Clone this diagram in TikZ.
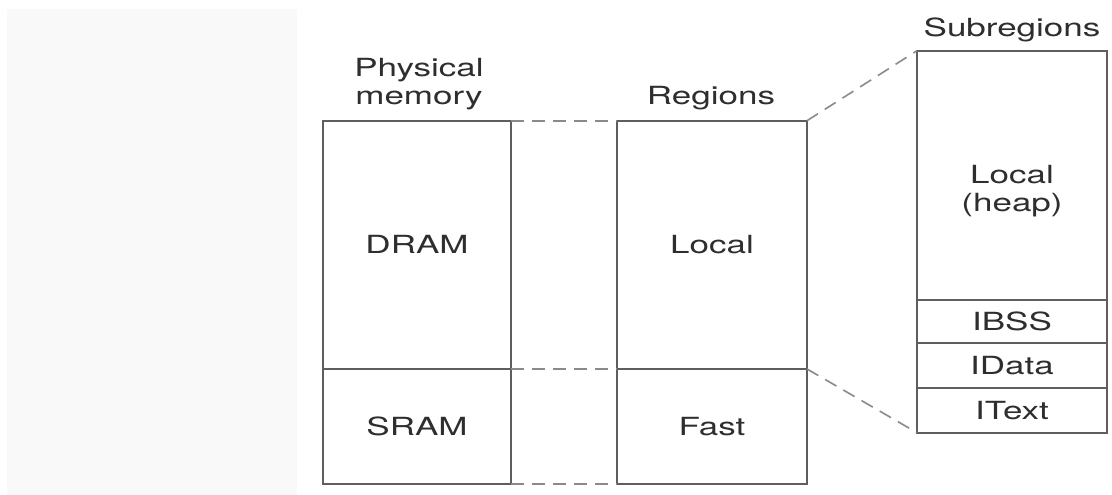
\documentclass[tikz,border=0pt]{standalone}
\usepackage{fontspec}
\setmainfont[FakeStretch=1.4]{TeX Gyre Heros}
\definecolor{panelgray}{HTML}{F9F9F9}
\definecolor{linegray}{HTML}{5E5E5E}
\definecolor{dashgray}{HTML}{8A8A8A}
\definecolor{textgray}{HTML}{2E2E2E}
\begin{document}
\begin{tikzpicture}[x=1pt,y=-1pt,
  every node/.style={font=\fontsize{25}{28}\selectfont, text=textgray},
  membox/.style={draw=linegray, line width=1.8pt, inner sep=0pt, outer sep=0pt, anchor=center},
  dashline/.style={draw=dashgray, line width=1.6pt, dash pattern=on 13pt off 8pt},
  lbl/.style={inner sep=0pt, align=center}]
\useasboundingbox (0,0) rectangle (1112,495);
\fill[white] (0,0) rectangle (1112,495);
\fill[panelgray] (7,9) rectangle (297,495);
% physical memory
\node[membox, minimum width=188, minimum height=248.3] (dram) at (417,244.85) {DRAM};
\node[membox, minimum width=188, minimum height=115] (sram) at (417,426.5) {SRAM};
% regions
\node[membox, minimum width=190, minimum height=248.3] (local) at (712,244.85) {Local};
\node[membox, minimum width=190, minimum height=115] (fast) at (712,426.5) {Fast};
% subregions
\node[membox, minimum width=190, minimum height=249.3] (heap) at (1012,175.35) {};
\node[lbl] (heaplbl) at (1012,191) {Local\\(heap)};
\node[membox, minimum width=190, minimum height=43] (ibss) at (1012,321.5) {IBSS};
\node[membox, minimum width=190, minimum height=45] (idata) at (1012,365.5) {IData};
\node[membox, minimum width=190, minimum height=44.7] (itext) at (1012,410.35) {IText};
% titles
\node[lbl] (phys) at (419,84.5) {Physical\\memory};
\node[lbl, anchor=base] (regions) at (711,105) {Regions};
\node[lbl, anchor=base] (subregions) at (1012,37) {Subregions};
% dashed connectors
\draw[dashline] (dram.north east) -- (local.north west);
\draw[dashline] (sram.north east) -- (fast.north west);
\draw[dashline] (sram.south east) -- (fast.south west);
\draw[dashline] (local.north east) -- (heap.north west);
\draw[dashline] (fast.north east) -- (itext.south west);
\end{tikzpicture}
\end{document}
